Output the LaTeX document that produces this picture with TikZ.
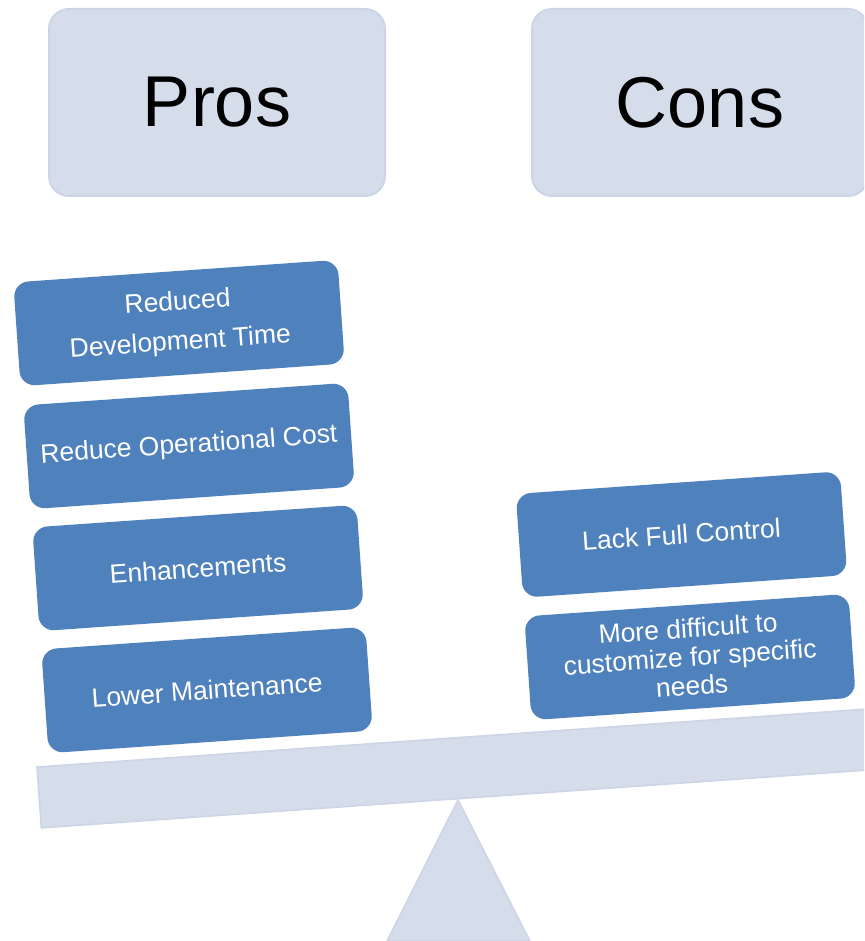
\documentclass[tikz,border=0pt]{standalone}
\usepackage{fontspec}
\setmainfont{Liberation Sans}
\definecolor{panefill}{RGB}{213,220,234}
\definecolor{paneline}{RGB}{204,212,230}
\definecolor{itemblue}{RGB}{79,129,189}

\begin{document}
\begin{tikzpicture}[x=1pt,y=-1pt]
                \tikzstyle{every node}+=[inner sep=0pt]
                \tikzstyle{header}=[fill=panefill,draw=paneline,line width=2pt,rounded corners=20pt,minimum width=336pt,minimum height=187pt,font=\fontsize{72}{80}\selectfont]
                \tikzstyle{item}=[fill=itemblue,rounded corners=15pt,minimum width=325pt,minimum height=104pt,rotate=4,text=white,align=center,font=\fontsize{26.5}{29}\selectfont]
                \useasboundingbox (0,0) rectangle (864,941);
                \clip (0,0) rectangle (864,941);
                % the two headings
                \node [header] (pros) at (217,102.5) {Pros};
                \node [header] (cons) at (700,102.5) {Cons};
                % fulcrum, then the beam on top of it
                \draw [fill=panefill,draw=paneline,line width=1.5pt] (458,800) -- (530,941) -- (387,941) -- cycle;
                \draw [fill=panefill,draw=paneline,line width=1.5pt] (37,767) -- (900,706.7) -- (904.3,767.5) -- (41.3,827.9) -- cycle;
                % left stack
                \node [item,font=\fontsize{26.5}{40}\selectfont] (devtime) at (179,323) {Reduced\\Development Time};
                \node [item] (opcost) at (189,446) {Reduce Operational Cost};
                \node [item] (enhance) at (198,568) {Enhancements};
                \node [item] (maint) at (207,690) {Lower Maintenance};
                % right stack
                \node [item] (control) at (681.5,534.5) {Lack Full Control};
                \node [item] (custom) at (690,657) {More difficult to\\customize for specific\\needs};
              \end{tikzpicture}
\end{document}
